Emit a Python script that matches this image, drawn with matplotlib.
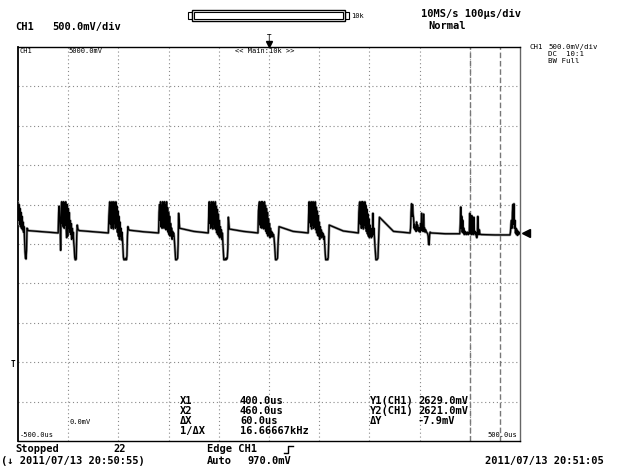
import matplotlib
matplotlib.use("Agg")
import matplotlib.pyplot as plt
import matplotlib.transforms as mtransforms
from matplotlib.lines import Line2D
from matplotlib.patches import Rectangle
import numpy as np

W, H = 622, 469
MONO = "DejaVu Sans Mono"

# screen scale: 100 us/div, 500 mV/div, 10 x 10 divisions
t_min, t_max = -500.0, 500.0
v_min, v_max = 0.0, 5000.0

# trace (us, mV)
lead_t = [-500, -499, -498, -497, -496, -495, -494, -493, -492, -491, -490,
          -489, -488, -487, -486, -485, -484, -483, -482, -481, -480, -450]
lead_v = [3030, 2800, 3000, 2750, 2950, 2720, 2900, 2700, 2850, 2680, 2780,
          2650, 2720, 2560, 2400, 2320, 2310, 2420, 2700, 2690, 2670, 2655]

burst_start = [-420, -320, -220, -121, -22, 78, 178, 281, 380]
burst_off = [0, 1, 2, 3, 4, 5, 6, 7, 8, 9, 10, 11, 12, 13, 14, 15, 16, 17, 18, 19,
             20, 21, 22, 23, 24, 25, 26, 27, 28, 29, 30, 31, 32, 33, 34, 35, 36, 37,
             38, 39, 40, 42, 70]
burst_v = [
    [2640, 2900, 2980, 2850, 2700, 2420, 2950, 3035, 2760, 3030, 2720, 3035, 2700, 3020, 2740,
     3035, 2690, 2580, 3000, 2600, 2950, 2700, 2900, 2650, 2800, 2620, 2760, 2560, 2700, 2600,
     2650, 2520, 2450, 2330, 2300, 2300, 2310, 2600, 2740, 2700, 2680, 2670, 2655],
    [2640, 2850, 2960, 3035, 2750, 2980, 2700, 3035, 2720, 3030, 2690, 3035, 2760, 3010, 2700,
     3035, 2720, 2980, 2650, 2920, 2600, 2850, 2560, 2780, 2600, 2700, 2550, 2650, 2580, 2450,
     2330, 2300, 2300, 2310, 2300, 2320, 2300, 2350, 2600, 2720, 2690, 2675, 2655],
    [2640, 2900, 3000, 2800, 3035, 2720, 2990, 2700, 3035, 2740, 3030, 2700, 3035, 2720, 3000,
     2680, 3035, 2700, 2960, 2650, 2900, 2620, 2850, 2600, 2760, 2620, 2700, 2560, 2660, 2600,
     2640, 2600, 2500, 2400, 2300, 2300, 2300, 2310, 2320, 2500, 2890, 2700, 2660],
    [2640, 2880, 3035, 2760, 2990, 2700, 3035, 2730, 3030, 2690, 3035, 2750, 3010, 2700, 3035,
     2680, 2980, 2640, 2940, 2620, 2880, 2600, 2800, 2580, 2720, 2600, 2680, 2560, 2640, 2520,
     2400, 2300, 2300, 2300, 2310, 2300, 2320, 2310, 2330, 2450, 2840, 2690, 2660],
    [2640, 2920, 2990, 3035, 2740, 3030, 2710, 3035, 2700, 3035, 2760, 3020, 2690, 3035, 2720,
     2990, 2660, 2950, 2630, 2900, 2600, 2820, 2620, 2760, 2580, 2700, 2600, 2660, 2590, 2640,
     2600, 2620, 2580, 2500, 2400, 2300, 2300, 2300, 2310, 2320, 2500, 2720, 2660],
    [2640, 2880, 3035, 2770, 3000, 2720, 3035, 2690, 3030, 2740, 3035, 2700, 3010, 2720, 3035,
     2680, 2970, 2640, 2920, 2610, 2860, 2600, 2780, 2560, 2720, 2600, 2680, 2580, 2650, 2600,
     2630, 2560, 2600, 2480, 2380, 2300, 2300, 2300, 2310, 2300, 2330, 2740, 2665],
    [2640, 2900, 3000, 3035, 2750, 3030, 2700, 3035, 2720, 3035, 2690, 3020, 2740, 3035, 2700,
     2990, 2660, 2940, 2630, 2880, 2600, 2820, 2580, 2740, 2600, 2700, 2580, 2680, 2600, 2890,
     2620, 2700, 2580, 2480, 2380, 2300, 2300, 2300, 2310, 2320, 2500, 2840, 2660],
    [2640, 2700, 2900, 3010, 2850, 3000, 2880, 2830, 2700, 2750, 2680, 2720, 2660, 2780, 2690,
     2740, 2670, 2710, 2660, 2700, 2650, 2760, 2680, 2890, 2670, 2720, 2660, 2880, 2680, 2700,
     2650, 2680, 2660, 2650, 2640, 2630, 2600, 2500, 2490, 2620, 2650, 2640, 2630],
    [2630, 2750, 2970, 2700, 2850, 2650, 2800, 2640, 2700, 2620, 2660, 2630, 2650, 2620, 2640,
     2630, 2650, 2620, 2640, 2630, 2890, 2640, 2700, 2620, 2860, 2630, 2680, 2620, 2840, 2640,
     2660, 2620, 2650, 2600, 2580, 2620, 2850, 2640, 2620, 2680, 2630, 2620, 2615],
]
last_start = 480
last_off = [0, 1, 2, 3, 4, 5, 6, 7, 8, 9, 10, 11, 12, 13, 14, 15, 16, 17, 18, 19, 20]
last_v = [2615, 2650, 2750, 2800, 2700, 2900, 3000, 2750, 3010, 2700, 2800, 2640, 2700,
          2620, 2680, 2610, 2660, 2620, 2650, 2630, 2640]

ch_level = 2640.0      # level marker at right edge
trig_level = 970.0
cursor_x = [400.0, 460.0]

t = list(lead_t)
v = list(lead_v)
for t0, vals in zip(burst_start, burst_v):
    t += [t0 + o for o in burst_off]
    v += vals
t += [last_start + o for o in last_off]
v += last_v


def fp(x, y):
    return x / W, 1 - y / H


def put(x, y, s, size=7.5, weight="bold", **kw):
    fig.text(*fp(x, y), s, fontsize=size, family=MONO, weight=weight,
             va="center", ha=kw.pop("ha", "left"), **kw)


def box(x, y, w, h, lw=0.8):
    fig.patches.append(Rectangle(fp(x, y + h), w / W, h / H, transform=fig.transFigure,
                                 fill=False, lw=lw, ec="black"))


fig = plt.figure(figsize=(W / 100, H / 100), dpi=100)
fig.patch.set_facecolor("white")
x0, x1, y0, y1 = 18, 520, 47, 441
ax = fig.add_axes([x0 / W, 1 - y1 / H, (x1 - x0) / W, (y1 - y0) / H])
ax.set_xlim(t_min, t_max)
ax.set_ylim(v_min, v_max)
ax.set_xticks([]); ax.set_yticks([])
for s in ax.spines.values():
    s.set_linewidth(1.0); s.set_color("black")
ax.spines["left"].set_linewidth(1.3)
ax.spines["right"].set_color("#666")

for gx in np.arange(t_min + 100, t_max, 100):
    ax.axvline(gx, color="#888", lw=0.8, ls=(0, (1, 2.5)), zorder=1)
for gy in np.arange(v_min + 500, v_max, 500):
    ax.axhline(gy, color="#888", lw=0.8, ls=(0, (1, 2.5)), zorder=1)
for cx in cursor_x:
    ax.axvline(cx, color="#777", lw=1.0, ls=(0, (4, 2)), zorder=2)

ax.plot(t, v, color="#9a9a9a", lw=1.9, zorder=3)
ax.plot(t, v, color="black", lw=1.0, zorder=4)

# level marker just right of the screen
off = mtransforms.offset_copy(ax.transData, fig=fig, x=6, y=0, units="dots")
ax.plot([t_max], [ch_level], marker="<", ms=6, color="black", transform=off, clip_on=False)
# trigger level mark on the left edge
offl = mtransforms.offset_copy(ax.transData, fig=fig, x=-3, y=0, units="dots")
ax.text(t_min, trig_level, "T", transform=offl, fontsize=5.5, family=MONO, weight="bold",
        ha="right", va="center", clip_on=False)
# trigger position mark on top
ax.annotate("T", xy=(0, 1), xycoords=("data", "axes fraction"), xytext=(0, 9),
            textcoords="offset pixels", ha="center", va="center", fontsize=5.5, family=MONO)
ax.plot([0], [v_max], marker="v", ms=4, color="black", clip_on=False,
        transform=mtransforms.offset_copy(ax.transData, fig=fig, x=0, y=3, units="dots"))

# top status line
put(15, 27, "CH1", 7.5)
put(52, 27, "500.0mV/div", 7.5)
put(421, 14, "10MS/s 100µs/div", 7.5)
put(428, 26, "Normal", 7.5)
box(192, 10, 153, 11, lw=1.0)
box(194, 12, 149, 7)
box(188, 12, 4, 7)
box(345, 12, 4, 7)
put(351, 16, "10k", 5, weight="normal")

# right panel
put(530, 47, "CH1", 5.3, weight="normal")
put(548, 47, "500.0mV/div", 5.3, weight="normal")
put(548, 54, "DC  10:1", 5.3, weight="normal")
put(548, 61, "BW Full", 5.3, weight="normal")

# labels inside screen
put(20, 51, "CH1", 5, weight="normal")
put(68, 51, "5000.0mV", 5, weight="normal")
put(265, 51, "<< Main:10k >>", 5, weight="normal", ha="center")
put(69, 422, "0.0mV", 5, weight="normal")
put(20, 435, "-500.0us", 5, weight="normal")
put(517, 435, "500.0us", 5, weight="normal", ha="right")

# cursor readout
rows = [401, 411, 421, 431]
for y, a, b in zip(rows, ["X1", "X2", "ΔX", "1/ΔX"],
                   ["400.0us", "460.0us", "60.0us", "16.66667kHz"]):
    put(180, y, a, 7.5)
    put(240, y, b, 7.5)
for y, a, b in zip(rows, ["Y1(CH1)", "Y2(CH1)", "ΔY"],
                   ["2629.0mV", "2621.0mV", "-7.9mV"]):
    put(370, y, a, 7.5)
    put(418, y, b, 7.5)

# bottom status
put(15, 449, "Stopped", 7.5)
put(113, 449, "22", 7.5)
put(207, 449, "Edge CH1", 7.5)
edge_x = [284, 288, 288, 293]
edge_y = [453, 453, 446, 446]
fig.lines.append(Line2D([x / W for x in edge_x], [1 - y / H for y in edge_y],
                        transform=fig.transFigure, color="black", lw=1.0))
put(1, 461, "(\u2193 2011/07/13 20:50:55)", 7.5)
put(207, 461, "Auto", 7.5)
put(248, 461, "970.0mV", 7.5)
put(485, 461, "2011/07/13 20:51:05", 7.5)

fig.savefig("out.png", dpi=100, facecolor="white")
